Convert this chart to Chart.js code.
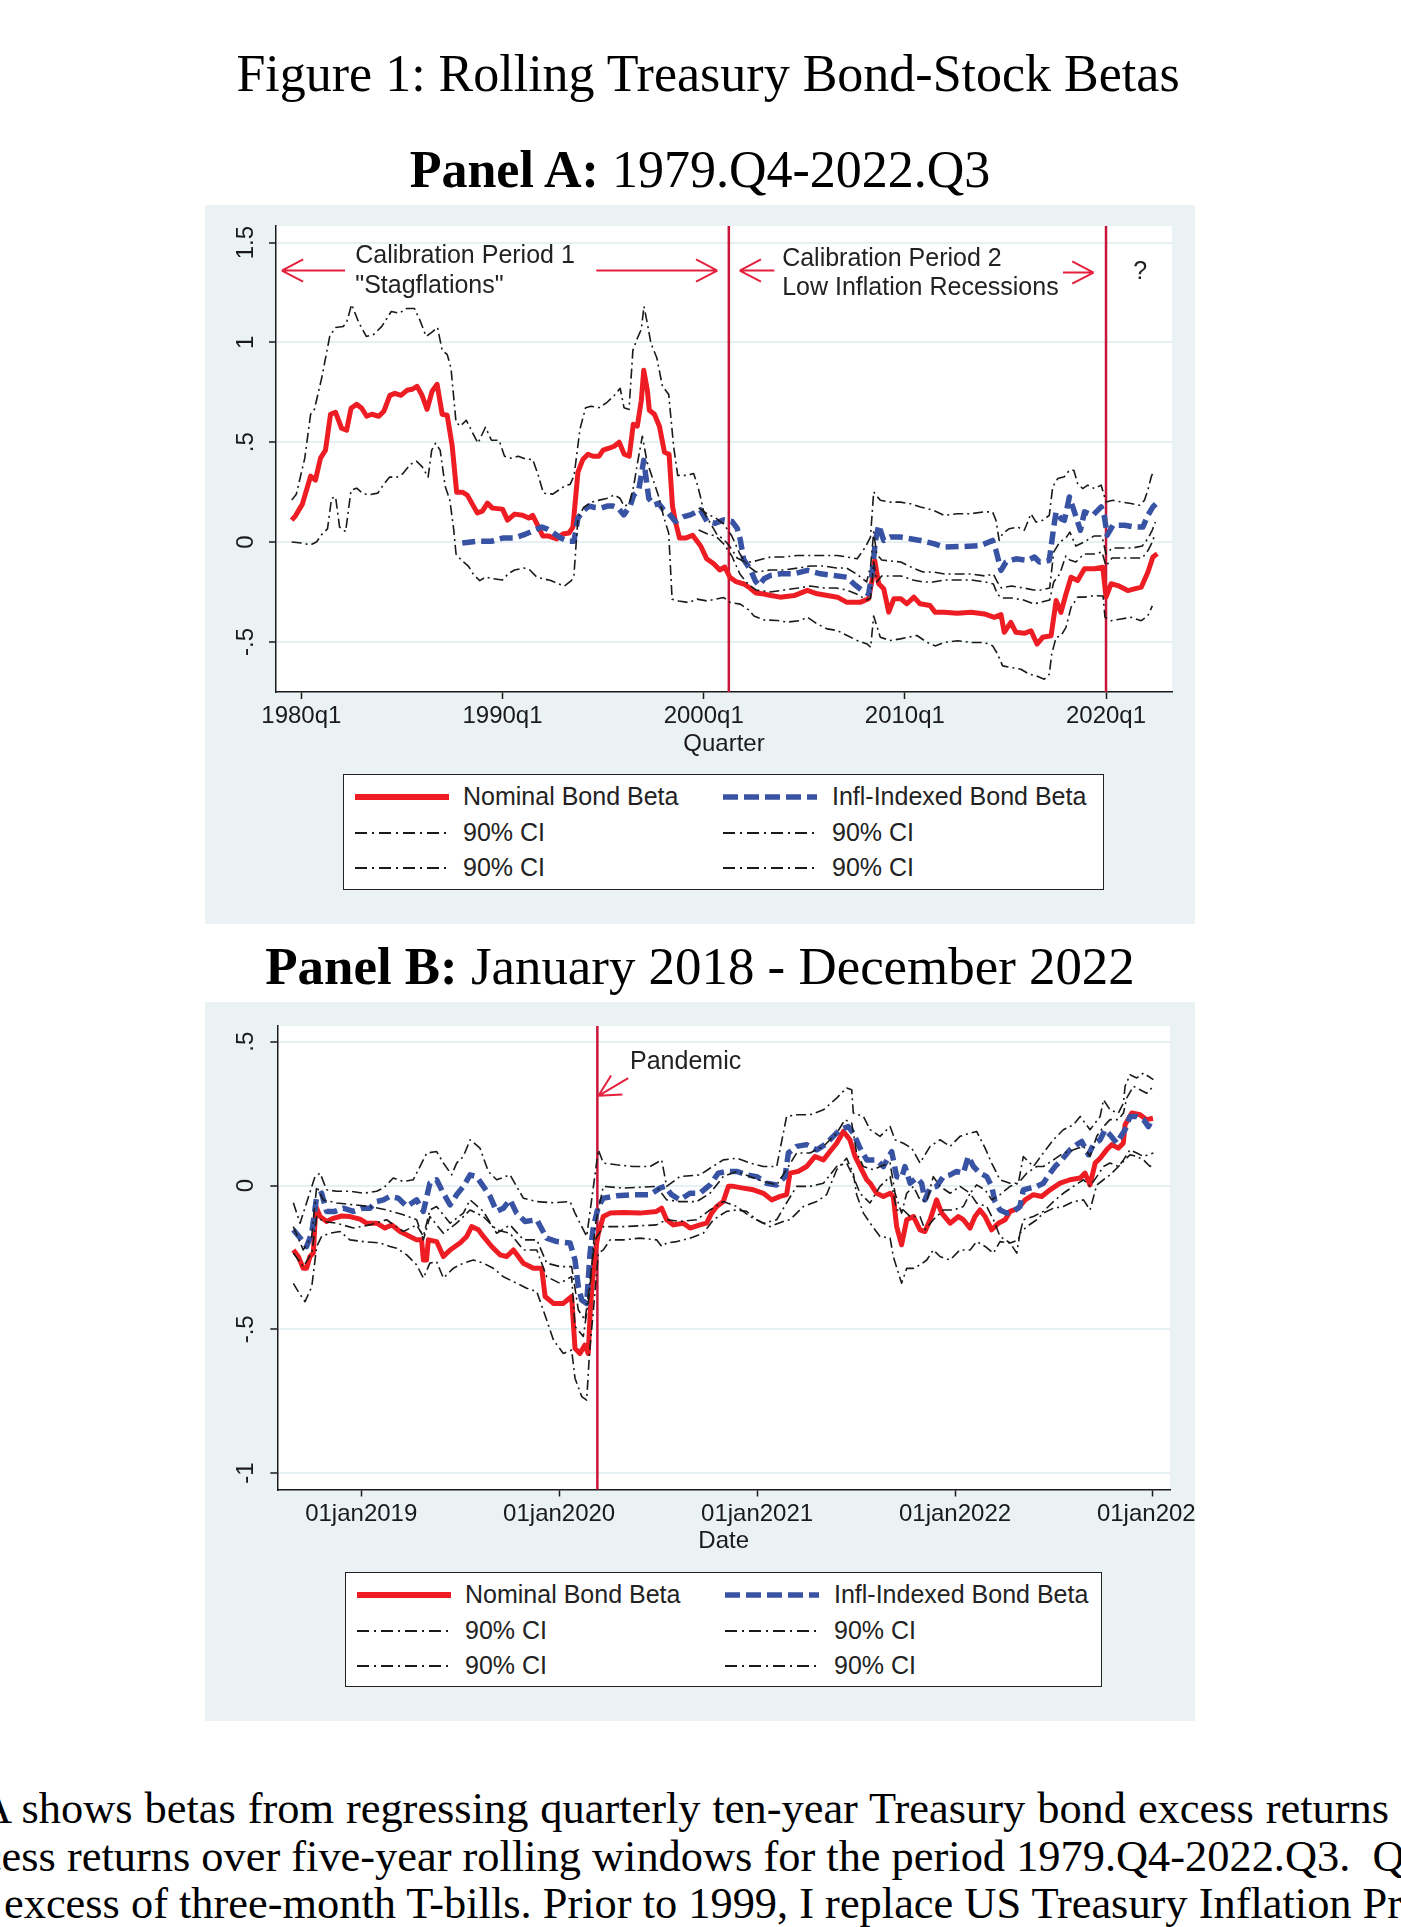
<!DOCTYPE html>
<html lang="en">
<head>
<meta charset="UTF-8">
<title>Rolling Treasury Bond-Stock Betas</title>
<script src="https://cdn.jsdelivr.net/npm/chart.js@4.4.1/dist/chart.umd.min.js"></script>
<style>
  html, body { margin: 0; padding: 0; }
  body { width: 1401px; height: 1927px; position: relative; overflow: hidden; background: #fff; }
  .serif { position: absolute; font-family: "Liberation Serif", "Times New Roman", serif; color: #000; white-space: nowrap; line-height: 1; }
  .title { font-size: 52px; transform: translateX(-50%); }
  .bodytext { font-size: 44.4px; }
  .panel { position: absolute; left: 205px; width: 990px; height: 719px; background: #eaf2f3; }
  .panel canvas { position: absolute; left: 0; top: 0; }
  .legend { position: absolute; background: #fff; border: 1.5px solid #222; box-sizing: border-box; }
  .key { position: absolute; font-family: "Liberation Sans", Arial, sans-serif; font-size: 25px; line-height: 25px; color: #222; white-space: nowrap; }
  .legend svg { position: absolute; overflow: visible; }
</style>
</head>
<body>

<div class="serif title" style="left:708px; top:48px;">Figure 1: Rolling Treasury Bond-Stock Betas</div>
<div class="serif title" style="left:700px; top:144px;"><b>Panel A:</b> 1979.Q4-2022.Q3</div>
<div class="panel" style="top:205px;"><canvas id="chartA" width="990" height="719"></canvas></div>
<div class="legend" id="legendA" style="left:343px; top:774px; width:761px; height:116px;"></div>

<div class="serif title" style="left:700px; top:940px; font-size:52.9px;"><b>Panel B:</b> January 2018 - December 2022</div>
<div class="panel" style="top:1002px;"><canvas id="chartB" width="990" height="719"></canvas></div>
<div class="legend" id="legendB" style="left:345px; top:1572px; width:757px; height:115px;"></div>

<div class="serif bodytext" style="left:-20px; top:1786px; width:1409px; text-align:justify; text-align-last:justify;">A shows betas from regressing quarterly ten-year Treasury bond excess returns</div>
<div class="serif bodytext" style="left:-60px; top:1834px;">excess returns over five-year rolling windows for the period 1979.Q4-2022.Q3.&nbsp; Quarterly</div>
<div class="serif bodytext" style="left:4px; top:1881px;">excess of three-month T-bills. Prior to 1999, I replace US Treasury Inflation Protected Securities</div>

<script>
// ---------- Panel A: quarterly, [year, beta] ----------
const nomBetaA = [
  [1979.52,0.11],[1979.7,0.13],[1980.05,0.19],[1980.46,0.33],[1980.7,0.31],[1980.95,0.42],[1981.2,0.46],[1981.45,0.64],
  [1981.7,0.65],[1982.0,0.57],[1982.25,0.56],[1982.47,0.67],[1982.75,0.69],[1983.0,0.67],[1983.25,0.63],[1983.5,0.64],
  [1983.85,0.63],[1984.1,0.655],[1984.4,0.735],[1984.65,0.745],[1984.95,0.735],[1985.25,0.76],[1985.5,0.765],[1985.75,0.78],
  [1986.0,0.735],[1986.25,0.665],[1986.5,0.755],[1986.75,0.79],[1987.0,0.64],[1987.25,0.635],[1987.5,0.48],[1987.72,0.25],
  [1988.0,0.25],[1988.25,0.235],[1988.5,0.19],[1988.75,0.146],[1989.0,0.155],[1989.25,0.195],[1989.5,0.17],[1990.0,0.165],
  [1990.25,0.11],[1990.6,0.14],[1991.0,0.134],[1991.3,0.12],[1991.5,0.134],[1991.75,0.084],[1992.0,0.03],[1992.3,0.03],
  [1992.7,0.016],[1993.0,0.04],[1993.3,0.045],[1993.5,0.075],[1993.75,0.35],[1994.0,0.415],[1994.25,0.44],[1994.5,0.43],
  [1994.8,0.43],[1995.0,0.46],[1995.3,0.47],[1995.55,0.48],[1995.8,0.5],[1996.05,0.44],[1996.3,0.43],[1996.5,0.59],
  [1996.7,0.58],[1996.9,0.71],[1997.02,0.86],[1997.2,0.76],[1997.3,0.66],[1997.55,0.64],[1997.8,0.58],[1998.05,0.45],
  [1998.28,0.44],[1998.45,0.18],[1998.6,0.1],[1998.8,0.02],[1999.1,0.02],[1999.45,0.034],[1999.85,-0.02],[2000.15,-0.084],
  [2000.5,-0.109],[2000.8,-0.14],[2001.05,-0.125],[2001.3,-0.176],[2001.6,-0.198],[2002.0,-0.21],[2002.3,-0.23],[2002.6,-0.255],
  [2003.0,-0.26],[2003.35,-0.268],[2003.8,-0.276],[2004.5,-0.268],[2005.15,-0.242],[2005.65,-0.259],[2006.15,-0.268],[2006.65,-0.276],
  [2007.1,-0.301],[2007.8,-0.301],[2008.2,-0.284],[2008.37,-0.192],[2008.5,-0.092],[2008.7,-0.209],[2008.95,-0.234],[2009.2,-0.351],
  [2009.45,-0.284],[2009.8,-0.284],[2010.1,-0.309],[2010.45,-0.276],[2010.75,-0.309],[2011.25,-0.318],[2011.5,-0.351],[2011.95,-0.352],
  [2012.6,-0.357],[2013.3,-0.352],[2013.95,-0.36],[2014.45,-0.377],[2014.78,-0.363],[2014.94,-0.452],[2015.27,-0.402],[2015.52,-0.452],
  [2015.94,-0.457],[2016.27,-0.444],[2016.57,-0.511],[2016.85,-0.477],[2017.27,-0.469],[2017.52,-0.293],[2017.76,-0.352],[2018.01,-0.26],
  [2018.26,-0.176],[2018.59,-0.193],[2018.93,-0.134],[2019.42,-0.134],[2019.84,-0.126],[2020.0,-0.276],[2020.25,-0.209],[2020.59,-0.218],
  [2021.08,-0.243],[2021.75,-0.226],[2022.08,-0.151],[2022.33,-0.075],[2022.55,-0.059]
];
const inflBetaA = [
  [1988.0,-0.005],[1988.7,0.004],[1989.45,0.004],[1990.0,0.02],[1990.6,0.02],[1991.15,0.04],[1991.55,0.057],[1991.95,0.075],
  [1992.2,0.066],[1992.5,0.048],[1992.9,0.02],[1993.25,0.004],[1993.55,0.004],[1993.75,0.12],[1994.0,0.155],[1994.3,0.18],
  [1994.6,0.173],[1994.9,0.17],[1995.2,0.18],[1995.5,0.18],[1995.75,0.17],[1996.03,0.136],[1996.36,0.185],[1996.52,0.235],
  [1996.77,0.26],[1997.02,0.409],[1997.27,0.219],[1997.52,0.185],[1997.76,0.194],[1998.01,0.161],[1998.26,0.144],[1998.59,0.103],
  [1999.01,0.127],[1999.34,0.136],[1999.84,0.161],[2000.17,0.103],[2000.58,0.094],[2001.0,0.111],[2001.41,0.103],[2001.66,0.07],
  [2001.82,0.012],[2001.99,-0.088],[2002.32,-0.137],[2002.57,-0.195],[2002.75,-0.217],[2003.0,-0.184],[2003.33,-0.167],[2003.82,-0.159],
  [2004.48,-0.159],[2005.15,-0.142],[2005.81,-0.159],[2006.47,-0.167],[2007.13,-0.176],[2007.46,-0.209],[2007.87,-0.242],[2008.2,-0.259],
  [2008.37,-0.159],[2008.54,0.008],[2008.7,0.084],[2008.95,0.008],[2009.28,0.025],[2009.78,0.025],[2010.27,0.017],[2010.77,0.008],
  [2011.43,-0.008],[2011.95,-0.025],[2012.95,-0.022],[2013.78,-0.017],[2014.36,0.008],[2014.53,-0.042],[2014.78,-0.142],[2015.03,-0.1],
  [2015.52,-0.084],[2016.11,-0.092],[2016.44,-0.075],[2016.69,-0.1],[2017.18,-0.092],[2017.4,0.075],[2017.52,0.151],[2017.76,0.117],
  [2017.93,0.109],[2018.18,0.226],[2018.43,0.151],[2018.73,0.059],[2018.93,0.151],[2019.34,0.134],[2019.76,0.176],[2019.92,0.126],
  [2020.06,0.034],[2020.34,0.084],[2020.92,0.084],[2021.42,0.075],[2021.83,0.075],[2022.08,0.134],[2022.33,0.176],[2022.58,0.201]
];
const nomHiA = [
  [1979.52,0.21],[1979.75,0.24],[1980.17,0.42],[1980.46,0.64],[1980.65,0.665],[1981.03,0.83],[1981.41,1.03],[1981.7,1.075],
  [1982.08,1.08],[1982.25,1.1],[1982.5,1.19],[1982.85,1.1],[1983.23,1.03],[1983.6,1.04],[1984.0,1.08],[1984.47,1.155],
  [1984.86,1.146],[1985.24,1.17],[1985.62,1.17],[1985.9,1.11],[1986.2,1.03],[1986.48,1.05],[1986.77,1.075],[1987.0,0.96],
  [1987.25,0.94],[1987.44,0.87],[1987.69,0.6],[1987.9,0.58],[1988.2,0.61],[1988.5,0.55],[1988.78,0.495],[1989.15,0.575],
  [1989.45,0.51],[1989.83,0.51],[1990.1,0.43],[1990.44,0.42],[1990.78,0.43],[1991.17,0.415],[1991.5,0.414],[1991.78,0.334],
  [1992.03,0.245],[1992.5,0.24],[1993.08,0.28],[1993.37,0.29],[1993.56,0.334],[1993.85,0.566],[1994.13,0.673],[1994.4,0.68],
  [1994.8,0.673],[1995.2,0.7],[1995.56,0.735],[1995.85,0.77],[1996.04,0.673],[1996.29,0.664],[1996.48,0.96],[1996.7,1.02],
  [1996.9,1.066],[1997.03,1.18],[1997.19,1.1],[1997.38,0.995],[1997.67,0.923],[1997.95,0.78],[1998.26,0.74],[1998.51,0.475],
  [1998.71,0.334],[1999.17,0.334],[1999.5,0.343],[1999.67,0.293],[1999.84,0.227],[2000.0,0.152],[2000.67,0.036],[2000.91,0.02],
  [2001.16,-0.005],[2001.41,-0.038],[2001.66,-0.08],[2001.99,-0.096],[2002.4,-0.1],[2002.66,-0.092],[2003.33,-0.075],[2004.0,-0.075],
  [2004.65,-0.067],[2005.3,-0.067],[2006.0,-0.067],[2006.63,-0.067],[2007.13,-0.075],[2007.63,-0.084],[2008.04,-0.025],[2008.29,0.025],
  [2008.45,0.251],[2008.78,0.209],[2009.28,0.2],[2009.78,0.2],[2010.27,0.192],[2010.77,0.176],[2011.43,0.159],[2011.95,0.134],
  [2012.62,0.142],[2013.28,0.142],[2013.95,0.151],[2014.36,0.151],[2014.53,0.109],[2014.69,0.008],[2014.86,0.042],[2015.19,0.067],
  [2015.61,0.075],[2015.94,0.059],[2016.27,0.142],[2016.52,0.1],[2016.85,0.109],[2017.18,0.134],[2017.35,0.276],[2017.6,0.318],
  [2017.93,0.327],[2018.18,0.36],[2018.4,0.36],[2018.59,0.293],[2018.84,0.268],[2019.09,0.285],[2019.42,0.268],[2019.76,0.285],
  [2020.0,0.201],[2020.34,0.209],[2020.75,0.201],[2021.25,0.193],[2021.66,0.184],[2021.91,0.209],[2022.08,0.26],[2022.25,0.327],
  [2022.38,0.36]
];
const nomLoA = [
  [1979.52,0.0],[1980.0,-0.005],[1980.46,-0.014],[1980.75,0.0],[1981.03,0.04],[1981.3,0.066],[1981.5,0.218],[1981.7,0.227],
  [1981.9,0.075],[1982.2,0.052],[1982.47,0.26],[1982.75,0.27],[1983.04,0.245],[1983.33,0.236],[1983.8,0.245],[1984.1,0.29],
  [1984.38,0.325],[1984.76,0.325],[1985.05,0.343],[1985.43,0.39],[1985.72,0.405],[1986.0,0.378],[1986.3,0.325],[1986.48,0.46],
  [1986.67,0.495],[1986.9,0.46],[1987.15,0.28],[1987.38,0.21],[1987.57,0.066],[1987.69,-0.06],[1988.0,-0.095],[1988.3,-0.12],
  [1988.58,-0.166],[1988.87,-0.193],[1989.16,-0.175],[1989.54,-0.184],[1990.0,-0.19],[1990.3,-0.157],[1990.6,-0.14],[1991.07,-0.13],
  [1991.36,-0.14],[1991.7,-0.175],[1992.03,-0.184],[1992.4,-0.193],[1992.8,-0.21],[1993.08,-0.22],[1993.42,-0.193],[1993.55,-0.166],
  [1993.75,0.12],[1994.03,0.173],[1994.42,0.2],[1994.8,0.21],[1995.18,0.218],[1995.56,0.236],[1995.85,0.218],[1996.04,0.18],
  [1996.3,0.19],[1996.52,0.28],[1996.7,0.39],[1996.95,0.53],[1997.19,0.4],[1997.44,0.326],[1997.77,0.227],[1998.01,0.127],
  [1998.26,0.045],[1998.43,-0.286],[1998.76,-0.295],[1999.26,-0.303],[1999.67,-0.286],[2000.17,-0.295],[2000.58,-0.286],[2001.0,-0.278],
  [2001.33,-0.303],[2001.82,-0.311],[2002.24,-0.34],[2002.5,-0.37],[2003.0,-0.39],[2003.66,-0.393],[2004.15,-0.401],[2004.81,-0.393],
  [2005.15,-0.376],[2005.64,-0.41],[2006.14,-0.435],[2006.64,-0.443],[2007.13,-0.468],[2007.63,-0.493],[2008.12,-0.51],[2008.3,-0.527],
  [2008.45,-0.37],[2008.78,-0.477],[2009.28,-0.493],[2009.78,-0.485],[2010.6,-0.468],[2011.1,-0.502],[2011.51,-0.52],[2011.95,-0.503],
  [2012.62,-0.494],[2013.28,-0.503],[2013.95,-0.503],[2014.36,-0.519],[2014.61,-0.561],[2014.86,-0.62],[2015.27,-0.628],[2015.77,-0.637],
  [2016.19,-0.662],[2016.52,-0.67],[2016.93,-0.687],[2017.18,-0.662],[2017.3,-0.561],[2017.52,-0.477],[2017.76,-0.47],[2018.01,-0.427],
  [2018.26,-0.327],[2018.59,-0.276],[2018.93,-0.276],[2019.42,-0.268],[2019.85,-0.27],[2019.95,-0.377],[2020.25,-0.394],[2020.75,-0.385],
  [2021.25,-0.377],[2021.75,-0.394],[2022.08,-0.369],[2022.3,-0.32]
];
const inflHiA = [
  [1999.75,0.17],[2000.2,0.14],[2000.6,0.12],[2001.0,0.09],[2001.4,0.03],[2001.8,-0.06],[2002.2,-0.12],[2002.6,-0.15],
  [2003.3,-0.14],[2004.0,-0.14],[2004.7,-0.13],[2005.3,-0.12],[2006.0,-0.12],[2006.6,-0.13],[2007.1,-0.13],[2007.6,-0.16],
  [2008.1,-0.2],[2008.3,-0.12],[2008.45,0.05],[2008.6,-0.06],[2008.85,-0.09],[2009.3,-0.095],[2009.8,-0.1],[2010.4,-0.13],
  [2010.9,-0.15],[2011.4,-0.15],[2012.0,-0.16],[2012.6,-0.16],[2013.3,-0.16],[2014.0,-0.17],[2014.4,-0.16],[2014.6,-0.2],
  [2014.8,-0.23],[2015.3,-0.22],[2015.9,-0.23],[2016.4,-0.24],[2016.8,-0.24],[2017.2,-0.23],[2017.4,-0.05],[2017.7,0.0],
  [2018.0,0.02],[2018.2,0.05],[2018.5,-0.02],[2018.9,0.0],[2019.4,0.03],[2019.8,0.03],[2020.0,-0.06],[2020.3,-0.03],
  [2020.8,-0.03],[2021.3,-0.03],[2021.8,-0.02],[2022.1,0.02],[2022.3,0.06],[2022.45,0.1]
];
const inflLoA = [
  [1999.75,0.06],[2000.2,0.04],[2000.6,0.03],[2001.0,-0.01],[2001.4,-0.07],[2001.8,-0.16],[2002.2,-0.21],[2002.6,-0.24],
  [2003.3,-0.25],[2004.0,-0.24],[2004.7,-0.23],[2005.3,-0.22],[2006.0,-0.23],[2006.6,-0.23],[2007.1,-0.24],[2007.6,-0.26],
  [2008.1,-0.29],[2008.3,-0.28],[2008.45,-0.1],[2008.6,-0.2],[2008.85,-0.17],[2009.3,-0.17],[2009.8,-0.17],[2010.4,-0.19],
  [2010.9,-0.2],[2011.4,-0.2],[2012.0,-0.19],[2012.6,-0.19],[2013.3,-0.19],[2014.0,-0.2],[2014.4,-0.21],[2014.6,-0.26],
  [2014.8,-0.28],[2015.3,-0.28],[2015.9,-0.29],[2016.4,-0.31],[2016.8,-0.3],[2017.2,-0.29],[2017.4,-0.2],[2017.7,-0.16],
  [2018.0,-0.07],[2018.2,-0.09],[2018.5,-0.1],[2018.9,-0.06],[2019.4,-0.06],[2019.8,-0.05],[2020.0,-0.12],[2020.3,-0.08],
  [2020.8,-0.08],[2021.3,-0.08],[2021.8,-0.08],[2022.1,-0.04],[2022.3,0.0],[2022.4,0.03]
];
const xTicksA = [1980, 1990, 2000, 2010, 2020];
const xLabelsA = ['1980q1', '1990q1', '2000q1', '2010q1', '2020q1'];
const yTicksA = [-0.5, 0, 0.5, 1, 1.5];

// ---------- Panel B: daily, [year, beta] ----------
const nomBetaB = [
  [2018.657,-0.224],[2018.682,-0.247],[2018.707,-0.288],[2018.724,-0.288],[2018.741,-0.247],[2018.758,-0.235],[2018.771,-0.073],[2018.792,-0.108],
  [2018.825,-0.125],[2018.859,-0.114],[2018.901,-0.106],[2018.943,-0.108],[2018.994,-0.117],[2019.027,-0.131],[2019.078,-0.131],[2019.12,-0.148],
  [2019.154,-0.137],[2019.196,-0.16],[2019.246,-0.177],[2019.28,-0.189],[2019.305,-0.189],[2019.314,-0.259],[2019.33,-0.259],[2019.339,-0.189],
  [2019.381,-0.195],[2019.415,-0.247],[2019.449,-0.224],[2019.499,-0.2],[2019.533,-0.177],[2019.558,-0.143],[2019.592,-0.154],[2019.617,-0.177],
  [2019.659,-0.212],[2019.701,-0.241],[2019.735,-0.247],[2019.769,-0.224],[2019.819,-0.27],[2019.87,-0.288],[2019.912,-0.288],[2019.929,-0.386],
  [2019.971,-0.41],[2020.021,-0.41],[2020.063,-0.386],[2020.08,-0.566],[2020.105,-0.584],[2020.13,-0.555],[2020.147,-0.584],[2020.159,-0.41],
  [2020.181,-0.235],[2020.198,-0.166],[2020.223,-0.108],[2020.257,-0.096],[2020.324,-0.094],[2020.408,-0.096],[2020.492,-0.09],[2020.518,-0.079],
  [2020.543,-0.119],[2020.577,-0.137],[2020.627,-0.131],[2020.661,-0.148],[2020.711,-0.137],[2020.745,-0.131],[2020.77,-0.096],[2020.796,-0.073],
  [2020.829,-0.056],[2020.855,-0.003],[2020.88,-0.003],[2020.93,-0.009],[2020.981,-0.015],[2021.032,-0.027],[2021.074,-0.05],[2021.116,-0.038],
  [2021.149,-0.032],[2021.166,0.043],[2021.208,0.049],[2021.25,0.066],[2021.293,0.101],[2021.335,0.089],[2021.368,0.118],[2021.402,0.147],
  [2021.436,0.188],[2021.469,0.159],[2021.495,0.101],[2021.528,0.055],[2021.554,0.02],[2021.571,0.008],[2021.604,-0.027],[2021.638,-0.038],
  [2021.672,-0.027],[2021.688,-0.038],[2021.705,-0.143],[2021.73,-0.206],[2021.756,-0.119],[2021.79,-0.108],[2021.823,-0.154],[2021.848,-0.16],
  [2021.874,-0.119],[2021.907,-0.05],[2021.933,-0.096],[2021.975,-0.131],[2022.017,-0.108],[2022.042,-0.119],[2022.076,-0.148],[2022.101,-0.108],
  [2022.126,-0.085],[2022.152,-0.108],[2022.185,-0.154],[2022.219,-0.131],[2022.253,-0.119],[2022.278,-0.09],[2022.32,-0.079],[2022.354,-0.05],
  [2022.396,-0.032],[2022.438,-0.038],[2022.48,-0.015],[2022.531,0.008],[2022.581,0.02],[2022.632,0.026],[2022.657,0.043],[2022.682,0.002],
  [2022.708,0.078],[2022.733,0.095],[2022.766,0.124],[2022.792,0.142],[2022.825,0.13],[2022.85,0.147],[2022.859,0.211],[2022.893,0.252],
  [2022.935,0.246],[2022.968,0.229],[2023.0,0.234]
];
const inflBetaB = [
  [2018.657,-0.154],[2018.699,-0.189],[2018.724,-0.212],[2018.75,-0.166],[2018.775,-0.038],[2018.8,-0.027],[2018.825,-0.09],[2018.867,-0.09],
  [2018.909,-0.079],[2018.96,-0.09],[2019.01,-0.079],[2019.044,-0.079],[2019.078,-0.056],[2019.112,-0.05],[2019.145,-0.038],[2019.187,-0.044],
  [2019.23,-0.073],[2019.28,-0.05],[2019.314,-0.09],[2019.347,0.008],[2019.381,0.02],[2019.415,-0.027],[2019.449,-0.067],[2019.482,-0.032],
  [2019.516,-0.003],[2019.55,0.037],[2019.583,0.031],[2019.617,-0.003],[2019.651,-0.038],[2019.684,-0.09],[2019.718,-0.079],[2019.752,-0.05],
  [2019.785,-0.096],[2019.828,-0.125],[2019.887,-0.119],[2019.937,-0.183],[2019.988,-0.195],[2020.055,-0.2],[2020.08,-0.259],[2020.097,-0.352],
  [2020.114,-0.398],[2020.139,-0.41],[2020.156,-0.235],[2020.173,-0.143],[2020.198,-0.073],[2020.223,-0.044],[2020.29,-0.036],[2020.375,-0.032],
  [2020.459,-0.032],[2020.509,-0.009],[2020.535,-0.003],[2020.568,-0.032],[2020.61,-0.05],[2020.661,-0.027],[2020.711,-0.027],[2020.762,0.002],
  [2020.804,0.043],[2020.846,0.049],[2020.897,0.049],[2020.947,0.037],[2020.998,0.031],[2021.048,0.008],[2021.099,0.002],[2021.141,0.031],
  [2021.158,0.113],[2021.2,0.136],[2021.25,0.142],[2021.301,0.124],[2021.343,0.142],[2021.385,0.171],[2021.419,0.194],[2021.461,0.205],
  [2021.486,0.182],[2021.52,0.13],[2021.554,0.089],[2021.604,0.089],[2021.638,0.066],[2021.68,0.118],[2021.705,0.031],[2021.73,0.026],
  [2021.747,0.066],[2021.773,0.008],[2021.806,0.026],[2021.831,0.008],[2021.848,-0.05],[2021.874,-0.009],[2021.907,-0.003],[2021.941,0.031],
  [2021.975,0.037],[2022.008,0.049],[2022.042,0.043],[2022.067,0.101],[2022.093,0.066],[2022.126,0.043],[2022.16,0.031],[2022.185,-0.003],
  [2022.202,-0.056],[2022.227,-0.085],[2022.261,-0.096],[2022.295,-0.09],[2022.328,-0.073],[2022.345,-0.015],[2022.379,-0.009],[2022.413,-0.003],
  [2022.446,0.008],[2022.48,0.043],[2022.505,0.066],[2022.539,0.089],[2022.581,0.124],[2022.615,0.142],[2022.64,0.153],[2022.674,0.107],
  [2022.699,0.142],[2022.733,0.159],[2022.758,0.194],[2022.783,0.176],[2022.817,0.147],[2022.842,0.176],[2022.859,0.194],[2022.884,0.24],
  [2022.918,0.24],[2022.952,0.229],[2022.977,0.205],[2023.0,0.234]
];
const inflHiB = [
  [2018.657,-0.06],[2018.691,-0.131],[2018.766,0.03],[2018.792,0.043],[2018.825,-0.015],[2018.876,-0.02],[2018.943,-0.02],[2019.011,-0.027],
  [2019.078,-0.02],[2019.112,-0.009],[2019.162,0.026],[2019.213,0.014],[2019.263,0.02],[2019.331,0.113],[2019.381,0.118],[2019.415,0.078],
  [2019.457,0.037],[2019.482,0.078],[2019.516,0.101],[2019.55,0.159],[2019.6,0.13],[2019.642,0.049],[2019.684,0.02],[2019.752,0.037],
  [2019.819,-0.044],[2019.887,-0.056],[2019.971,-0.06],[2020.055,-0.056],[2020.08,-0.096],[2020.139,-0.177],[2020.164,-0.05],[2020.198,0.124],
  [2020.223,0.078],[2020.29,0.072],[2020.375,0.066],[2020.459,0.066],[2020.518,0.089],[2020.543,-0.003],[2020.61,0.031],[2020.711,0.037],
  [2020.762,0.06],[2020.829,0.089],[2020.897,0.095],[2020.964,0.078],[2021.032,0.066],[2021.099,0.066],[2021.149,0.24],[2021.2,0.246],
  [2021.267,0.246],[2021.335,0.263],[2021.402,0.304],[2021.452,0.339],[2021.478,0.333],[2021.486,0.252],[2021.537,0.24],[2021.571,0.194],
  [2021.621,0.171],[2021.672,0.205],[2021.697,0.159],[2021.739,0.147],[2021.781,0.13],[2021.823,0.078],[2021.874,0.136],[2021.924,0.159],
  [2021.975,0.136],[2022.025,0.171],[2022.076,0.182],[2022.109,0.188],[2022.152,0.13],[2022.185,0.078],[2022.227,0.02],[2022.278,0.008],
  [2022.32,0.008],[2022.345,0.101],[2022.396,0.066],[2022.446,0.113],[2022.497,0.159],[2022.547,0.194],[2022.598,0.211],[2022.632,0.24],
  [2022.682,0.194],[2022.733,0.24],[2022.75,0.298],[2022.783,0.263],[2022.825,0.252],[2022.851,0.287],[2022.859,0.345],[2022.884,0.385],
  [2022.918,0.374],[2022.952,0.391],[2023.002,0.368]
];
const nomLoB = [
  [2018.657,-0.34],[2018.682,-0.369],[2018.716,-0.404],[2018.75,-0.352],[2018.775,-0.212],[2018.8,-0.177],[2018.842,-0.166],[2018.893,-0.16],
  [2018.943,-0.189],[2019.011,-0.195],[2019.095,-0.2],[2019.145,-0.212],[2019.179,-0.218],[2019.23,-0.241],[2019.28,-0.276],[2019.314,-0.322],
  [2019.347,-0.27],[2019.381,-0.265],[2019.415,-0.322],[2019.465,-0.288],[2019.516,-0.27],[2019.566,-0.259],[2019.617,-0.27],[2019.667,-0.288],
  [2019.718,-0.317],[2019.785,-0.34],[2019.836,-0.357],[2019.887,-0.369],[2019.937,-0.468],[2019.971,-0.537],[2020.021,-0.584],[2020.063,-0.572],
  [2020.08,-0.67],[2020.114,-0.734],[2020.139,-0.746],[2020.153,-0.584],[2020.173,-0.433],[2020.198,-0.235],[2020.223,-0.224],[2020.257,-0.189],
  [2020.324,-0.189],[2020.408,-0.183],[2020.492,-0.189],[2020.518,-0.212],[2020.543,-0.2],[2020.594,-0.195],[2020.661,-0.183],[2020.728,-0.166],
  [2020.779,-0.119],[2020.846,-0.09],[2020.897,-0.085],[2020.947,-0.09],[2020.998,-0.119],[2021.065,-0.143],[2021.132,-0.125],[2021.166,-0.119],
  [2021.234,-0.073],[2021.301,-0.056],[2021.351,-0.032],[2021.402,0.055],[2021.452,0.095],[2021.486,0.043],[2021.503,-0.032],[2021.537,-0.096],
  [2021.571,-0.131],[2021.621,-0.177],[2021.672,-0.183],[2021.688,-0.247],[2021.714,-0.305],[2021.73,-0.34],[2021.756,-0.288],[2021.79,-0.288],
  [2021.823,-0.276],[2021.857,-0.259],[2021.89,-0.224],[2021.924,-0.247],[2021.975,-0.259],[2022.025,-0.224],[2022.076,-0.224],[2022.109,-0.195],
  [2022.152,-0.212],[2022.194,-0.235],[2022.227,-0.195],[2022.278,-0.2],[2022.312,-0.235],[2022.328,-0.166],[2022.362,-0.143],[2022.413,-0.119],
  [2022.446,-0.096],[2022.497,-0.079],[2022.547,-0.073],[2022.598,-0.056],[2022.649,-0.05],[2022.682,-0.085],[2022.716,0.002],[2022.75,0.02],
  [2022.783,0.037],[2022.817,0.06],[2022.851,0.084],[2022.884,0.107],[2022.918,0.101],[2022.952,0.089],[2022.985,0.066],[2023.002,0.078]
];
const nomHiB = [
  [2018.657,-0.143],[2018.707,-0.224],[2018.75,-0.177],[2018.775,-0.003],[2018.808,-0.05],[2018.876,-0.061],[2018.96,-0.067],[2019.044,-0.073],
  [2019.128,-0.085],[2019.213,-0.102],[2019.28,-0.119],[2019.314,-0.189],[2019.347,-0.108],[2019.415,-0.166],[2019.482,-0.131],[2019.55,-0.085],
  [2019.617,-0.108],[2019.684,-0.154],[2019.752,-0.166],[2019.819,-0.224],[2019.887,-0.224],[2019.937,-0.317],[2020.004,-0.34],[2020.063,-0.317],
  [2020.08,-0.49],[2020.122,-0.525],[2020.153,-0.375],[2020.181,-0.143],[2020.223,-0.003],[2020.324,-0.009],[2020.492,-0.003],[2020.543,-0.05],
  [2020.61,-0.056],[2020.695,-0.056],[2020.762,-0.027],[2020.829,0.031],[2020.897,0.049],[2020.964,0.031],[2021.032,0.014],[2021.099,0.002],
  [2021.158,0.066],[2021.2,0.113],[2021.267,0.113],[2021.335,0.136],[2021.402,0.182],[2021.444,0.229],[2021.478,0.217],[2021.503,0.113],
  [2021.537,0.066],[2021.587,0.055],[2021.621,0.066],[2021.672,0.078],[2021.697,-0.027],[2021.73,-0.096],[2021.756,-0.027],[2021.79,-0.003],
  [2021.823,-0.05],[2021.857,-0.056],[2021.89,0.031],[2021.924,-0.003],[2021.975,-0.027],[2022.025,-0.003],[2022.076,-0.027],[2022.109,0.002],
  [2022.152,-0.015],[2022.185,-0.05],[2022.227,-0.032],[2022.278,-0.003],[2022.32,0.008],[2022.362,0.043],[2022.413,0.066],[2022.446,0.066],
  [2022.497,0.089],[2022.547,0.113],[2022.598,0.124],[2022.649,0.136],[2022.682,0.101],[2022.716,0.171],[2022.75,0.205],[2022.783,0.229],
  [2022.825,0.229],[2022.851,0.252],[2022.867,0.304],[2022.901,0.345],[2022.935,0.333],[2022.968,0.321],[2023.002,0.345]
];
const inflLoB = [
  [2018.657,-0.235],[2018.707,-0.282],[2018.75,-0.235],[2018.775,-0.108],[2018.808,-0.125],[2018.876,-0.131],[2018.96,-0.148],[2019.044,-0.137],
  [2019.128,-0.119],[2019.213,-0.16],[2019.28,-0.137],[2019.314,-0.177],[2019.347,-0.085],[2019.381,-0.073],[2019.449,-0.131],[2019.516,-0.096],
  [2019.55,-0.05],[2019.617,-0.09],[2019.684,-0.166],[2019.752,-0.137],[2019.819,-0.189],[2019.887,-0.189],[2019.937,-0.27],[2020.004,-0.282],
  [2020.063,-0.282],[2020.097,-0.433],[2020.131,-0.468],[2020.156,-0.328],[2020.181,-0.189],[2020.223,-0.143],[2020.324,-0.143],[2020.492,-0.137],
  [2020.543,-0.119],[2020.61,-0.125],[2020.695,-0.119],[2020.762,-0.085],[2020.829,-0.056],[2020.897,-0.073],[2020.964,-0.108],[2021.032,-0.131],
  [2021.099,-0.119],[2021.158,-0.05],[2021.2,-0.003],[2021.267,-0.003],[2021.335,0.008],[2021.402,0.066],[2021.452,0.078],[2021.486,0.031],
  [2021.52,-0.027],[2021.57,-0.061],[2021.621,-0.003],[2021.672,0.031],[2021.705,-0.085],[2021.739,-0.085],[2021.773,-0.108],[2021.823,-0.108],
  [2021.848,-0.154],[2021.89,-0.119],[2021.941,-0.085],[2021.992,-0.085],[2022.042,-0.073],[2022.076,-0.027],[2022.109,-0.061],[2022.16,-0.073],
  [2022.194,-0.119],[2022.227,-0.177],[2022.278,-0.2],[2022.32,-0.189],[2022.345,-0.119],[2022.396,-0.108],[2022.446,-0.09],[2022.497,-0.056],
  [2022.547,-0.027],[2022.598,-0.003],[2022.649,0.02],[2022.682,-0.003],[2022.716,0.031],[2022.75,0.066],[2022.783,0.078],[2022.825,0.066],
  [2022.851,0.089],[2022.884,0.124],[2022.918,0.113],[2022.952,0.101],[2023.002,0.113]
];
const xTicksB = [2019, 2020, 2021, 2022, 2023];
const xLabelsB = ['01jan2019', '01jan2020', '01jan2021', '01jan2022', '01jan2023'];
const yTicksB = [-1, -0.5, 0, 0.5];

const legendLabels = ['Nominal Bond Beta', 'Infl-Indexed Bond Beta', '90% CI', '90% CI', '90% CI', '90% CI'];

// ---------- styling ----------
const RED = '#ee1d24', BLUE = '#3953a4', INK = '#1a1a1a', GRID = '#e6eff1';
const VLINE = '#c8163a', ARROW = '#e5203c';
const SANS = "'Liberation Sans', Arial, sans-serif";
const CI_DASH = [10, 4, 2, 4];
const toXY = arr => arr.map(([x, y]) => ({ x, y }));
const stataNum = v => {
  if (v === 0) return '0';
  return String(v).replace(/^(-?)0\./, '$1.');
};

const annotate = {
  id: 'annotate',
  beforeDraw(chart) {
    const { ctx, chartArea: a } = chart;
    ctx.save();
    ctx.fillStyle = '#fff';
    ctx.fillRect(a.left, a.top, a.right - a.left, a.bottom - a.top);
    ctx.restore();
  },
  beforeDatasetsDraw(chart, args, opts) {
    const { ctx, chartArea: a, scales: { x } } = chart;
    ctx.save();
    ctx.strokeStyle = VLINE;
    ctx.lineWidth = 2.5;
    for (const v of opts.vlines) {
      const px = x.getPixelForValue(v);
      ctx.beginPath();
      ctx.moveTo(px, a.top);
      ctx.lineTo(px, a.bottom);
      ctx.stroke();
    }
    ctx.restore();
  },
  afterDatasetsDraw(chart, args, opts) {
    const { ctx, scales: { x, y } } = chart;
    ctx.save();
    ctx.strokeStyle = ARROW;
    ctx.lineWidth = 2;
    for (const [x0, y0, x1, y1] of opts.arrows) {
      const ax = x.getPixelForValue(x0), ay = y.getPixelForValue(y0);
      const bx = x.getPixelForValue(x1), by = y.getPixelForValue(y1);
      const ang = Math.atan2(ay - by, ax - bx);
      ctx.beginPath();
      ctx.moveTo(ax, ay);
      ctx.lineTo(bx, by);
      for (const s of [-1, 1]) {
        ctx.moveTo(bx, by);
        ctx.lineTo(bx + 24 * Math.cos(ang + s * 0.48), by + 24 * Math.sin(ang + s * 0.48));
      }
      ctx.stroke();
    }
    ctx.fillStyle = '#222';
    ctx.font = '25px ' + SANS;
    ctx.textBaseline = 'middle';
    for (const [tx, ty, text, align] of opts.notes) {
      ctx.textAlign = align || 'left';
      ctx.fillText(text, x.getPixelForValue(tx), y.getPixelForValue(ty));
    }
    ctx.restore();
  }
};

function makeChart(id, p) {
  const ci = (data, label) => ({
    label, data: toXY(data), borderColor: INK, borderWidth: 1.6, borderDash: CI_DASH, order: 1
  });
  const datasets = [
    { label: legendLabels[0], data: toXY(p.nom), borderColor: RED, borderWidth: 5, order: 3 },
    { label: legendLabels[1], data: toXY(p.infl), borderColor: BLUE, borderWidth: 5.5, borderDash: [13, 6], order: 2 },
    ci(p.nomHi, legendLabels[2]), ci(p.inflHi, legendLabels[3]),
    ci(p.nomLo, legendLabels[4]), ci(p.inflLo, legendLabels[5])
  ];
  const tickFont = { family: SANS, size: 24 };
  return new Chart(document.getElementById(id), {
    type: 'line',
    data: { datasets },
    options: {
      responsive: false,
      animation: false,
      events: [],
      elements: { point: { radius: 0 }, line: { tension: 0, borderJoinStyle: 'round' } },
      layout: { padding: { top: p.padTop, right: p.padRight, bottom: p.padBottom, left: 0 } },
      plugins: {
        legend: { display: false },
        tooltip: { enabled: false },
        annotate: p.notes
      },
      scales: {
        x: {
          type: 'linear', min: p.xMin, max: p.xMax,
          afterBuildTicks: s => { s.ticks = p.xTicks.map(v => ({ value: v })); },
          afterFit: s => { s.height = 70; s.paddingLeft = 0; s.paddingRight = 0; },
          ticks: { callback: (v, i) => p.xLabels[i], font: tickFont, color: INK, padding: p.xPad, maxRotation: 0, minRotation: 0, autoSkip: false },
          grid: { drawOnChartArea: false, tickLength: 7, tickColor: INK, tickWidth: 1.5 },
          border: { color: INK, width: 1.5 },
          title: { display: true, text: p.xTitle, font: tickFont, color: INK, padding: { top: 0, bottom: p.titlePad } }
        },
        y: {
          type: 'linear', min: p.yMin, max: p.yMax,
          afterBuildTicks: s => { s.ticks = p.yTicks.map(v => ({ value: v })); },
          afterFit: s => { s.width = p.yWidth; s.paddingTop = 0; s.paddingBottom = 0; },
          ticks: { callback: v => stataNum(v), font: tickFont, color: INK, minRotation: 90, maxRotation: 90, crossAlign: 'center', padding: p.yPad },
          grid: { color: GRID, lineWidth: 2, tickLength: 7, tickColor: INK, tickWidth: 1.5 },
          border: { color: INK, width: 1.5 }
        }
      }
    },
    plugins: [annotate]
  });
}

makeChart('chartA', {
  nom: nomBetaA, infl: inflBetaA, nomHi: nomHiA, nomLo: nomLoA, inflHi: inflHiA, inflLo: inflLoA,
  xMin: 1978.74, xMax: 2023.28, yMin: -0.751, yMax: 1.583,
  xTicks: xTicksA, xLabels: xLabelsA, yTicks: yTicksA, xTitle: 'Quarter',
  padTop: 21, padRight: 23, padBottom: 162, yWidth: 71, yPad: 6, xPad: 3, titlePad: 3,
  notes: {
    vlines: [2001.25, 2020.0],
    arrows: [[1982.17, 1.36, 1979.03, 1.36], [1994.66, 1.36, 2000.68, 1.36], [2003.51, 1.36, 2001.79, 1.36], [2017.86, 1.35, 2019.38, 1.35]],
    notes: [[1982.68, 1.434, 'Calibration Period 1'], [1982.68, 1.283, '"Stagflations"'],
            [2003.9, 1.417, 'Calibration Period 2'], [2003.9, 1.273, 'Low Inflation Recessions'],
            [2021.7, 1.354, '?', 'center']]
  }
});

makeChart('chartB', {
  nom: nomBetaB, infl: inflBetaB, nomHi: nomHiB, nomLo: nomLoB, inflHi: inflHiB, inflLo: inflLoB,
  xMin: 2018.576, xMax: 2023.086, yMin: -1.057, yMax: 0.5546,
  xTicks: xTicksB, xLabels: xLabelsB, yTicks: yTicksB, xTitle: 'Date',
  padTop: 24, padRight: 25, padBottom: 161.5, yWidth: 72.3, yPad: 10, xPad: 3, titlePad: 4,
  notes: {
    vlines: [2020.193],
    arrows: [[2020.349, 0.373, 2020.198, 0.312]],
    notes: [[2020.358, 0.428, 'Pandemic']]
  }
});

// ---------- HTML legends (two columns, three rows) ----------
function buildLegend(id) {
  const box = document.getElementById(id);
  const rows = [22, 58, 93];
  const cols = [{ s0: 11, s1: 105, t: 119 }, { s0: 379, s1: 473, t: 488 }];
  const styles = [
    { color: RED, width: 6, dash: '' },
    { color: BLUE, width: 5.5, dash: '15 6' },
    { color: INK, width: 2, dash: '12 5 2 5' }
  ];
  const slots = [[0, 0], [0, 1], [1, 0], [1, 1], [2, 0], [2, 1]];
  legendLabels.forEach((lab, i) => {
    const [r, c] = slots[i];
    const st = styles[Math.min(i, 2)];
    const col = cols[c];
    const svg = document.createElementNS('http://www.w3.org/2000/svg', 'svg');
    svg.setAttribute('width', col.s1 - col.s0);
    svg.setAttribute('height', 10);
    svg.style.left = col.s0 + 'px';
    svg.style.top = (rows[r] - 5) + 'px';
    const ln = document.createElementNS('http://www.w3.org/2000/svg', 'line');
    ln.setAttribute('x1', 0); ln.setAttribute('x2', col.s1 - col.s0);
    ln.setAttribute('y1', 5); ln.setAttribute('y2', 5);
    ln.setAttribute('stroke', st.color);
    ln.setAttribute('stroke-width', st.width);
    if (st.dash) ln.setAttribute('stroke-dasharray', st.dash);
    svg.appendChild(ln);
    box.appendChild(svg);
    const t = document.createElement('div');
    t.className = 'key';
    t.textContent = lab;
    t.style.left = col.t + 'px';
    t.style.top = (rows[r] - 13) + 'px';
    box.appendChild(t);
  });
}
buildLegend('legendA');
buildLegend('legendB');
</script>
</body>
</html>
